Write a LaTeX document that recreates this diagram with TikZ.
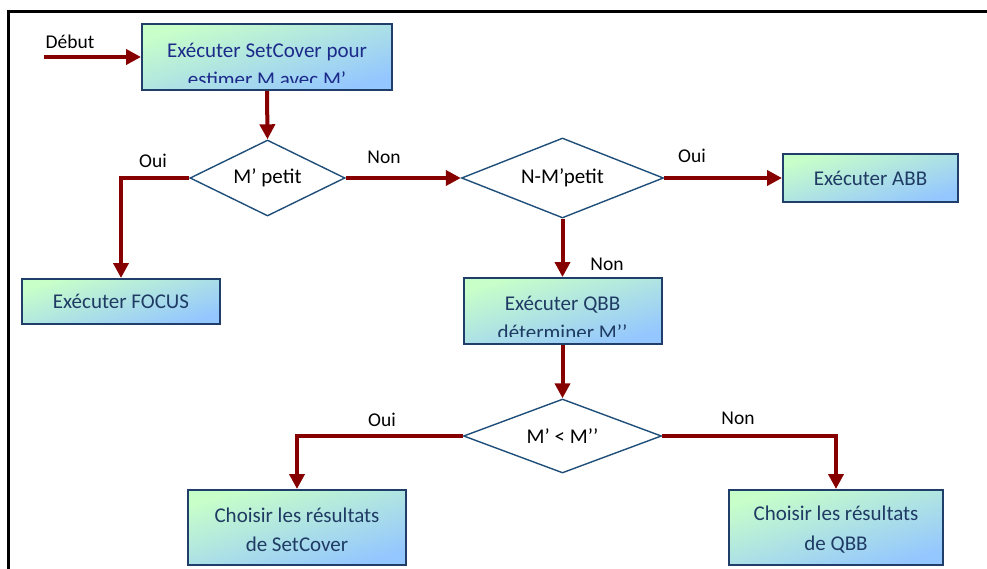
\documentclass[tikz,border=0pt]{standalone}
\usepackage{fontspec}
\setmainfont{Carlito}
\usetikzlibrary{arrows.meta,shapes.geometric,calc}

\definecolor{flow}{HTML}{870000}
\definecolor{boxedge}{HTML}{1F3F6A}
\definecolor{diaedge}{HTML}{1F4E79}
\definecolor{boxgreen}{HTML}{C8FFC8}
\definecolor{boxblue}{HTML}{94C6FF}
\definecolor{boxtext}{HTML}{1F3B63}
\definecolor{navytext}{HTML}{1C2A8A}

\tikzset{
  stepbox/.style={rectangle, draw=boxedge, line width=2pt,
    top color=boxgreen, bottom color=boxblue, shading angle=17,
    inner sep=0pt, align=center, text=boxtext,
    font=\fontsize{21}{29}\selectfont},
  boxtxt/.style={inner sep=0pt, align=center, text=boxtext,
    font=\fontsize{21}{29.5}\selectfont},
  test/.style={diamond, draw=diaedge, line width=1.4pt, fill=white,
    inner sep=0pt, font=\fontsize{21}{25}\selectfont},
  lbl/.style={inner sep=0pt, font=\fontsize{19.5}{24}\selectfont},
  flowline/.style={draw=flow, line width=4pt,
    -{Triangle[length=15pt,width=15pt]}},
}

\begin{document}
\begin{tikzpicture}[x=1pt,y=-1pt]
  \useasboundingbox (0,0) rectangle (987,569);
  \clip (0,0) rectangle (987,569);

  % outer frame (runs past the right and bottom edges)
  \draw[line width=2.5pt] (8.5,11.5) rectangle (1010,600);

  % process boxes
  \node[stepbox, minimum width=250, minimum height=66] (setcover) at (267,57) {};
  \begin{scope}
    \clip (142,24) rectangle (392,83);
    \node[boxtxt, text=navytext] (setcovertxt) at (267,65)
      {Exécuter SetCover pour\\estimer M avec M’};
  \end{scope}

  \node[stepbox, minimum width=198, minimum height=45] (focus) at (121,301.5) {Exécuter FOCUS};
  \node[stepbox, minimum width=175, minimum height=48] (abb) at (870.5,178) {Exécuter ABB};

  \node[stepbox, minimum width=198, minimum height=66] (qbb) at (562.5,311) {};
  \begin{scope}
    \clip (463.5,278) rectangle (661.5,336);
    \node[boxtxt] (qbbtxt) at (562.5,318) {Exécuter QBB\\déterminer M’’};
  \end{scope}

  \node[stepbox, minimum width=218, minimum height=75] (pickset) at (297,527.5) {};
  \node[boxtxt] (picksettxt) at (297,530) {Choisir les résultats\\de SetCover};
  \node[stepbox, minimum width=214, minimum height=75] (pickqbb) at (836,527.5) {};
  \node[boxtxt] (pickqbbtxt) at (836,530) {Choisir les résultats\\de QBB\vphantom{p}};

  % decisions
  \node[test, aspect=2.04, minimum width=155, minimum height=76] (small) at (267.5,178) {M’ petit};
  \node[test, aspect=2.52, minimum width=202, minimum height=80] (rest) at (562.5,178) {N-M’petit};
  \node[test, aspect=2.68, minimum width=198, minimum height=74] (cmp) at (562.5,436) {M’ < M’’};

  % connectors
  \coordinate (start) at (44,57);
  \draw[flowline] (start) -- (setcover.west);
  \draw[flowline] (setcover.south) -- (small.north);
  \draw[flowline] (small.west) -| (focus.north);
  \draw[flowline] (small.east) -- (rest.west);
  \draw[flowline] (rest.east) -- (abb.west);
  \draw[flowline] (rest.south) -- (qbb.north);
  \draw[flowline] (qbb.south) -- (cmp.north);
  \draw[flowline] (cmp.west) -| (pickset.north);
  \draw[flowline] (cmp.east) -| (pickqbb.north);

  % connector labels
  \node[lbl] (ldebut) at (70,42) {Début};
  \node[lbl] (loui1) at (153,161) {Oui};
  \node[lbl] (lnon1) at (384,157) {Non};
  \node[lbl] (loui2) at (692,156) {Oui};
  \node[lbl] (lnon2) at (607,264) {Non};
  \node[lbl] (loui3) at (382,420) {Oui};
  \node[lbl] (lnon3) at (738,418) {Non};
\end{tikzpicture}
\end{document}
